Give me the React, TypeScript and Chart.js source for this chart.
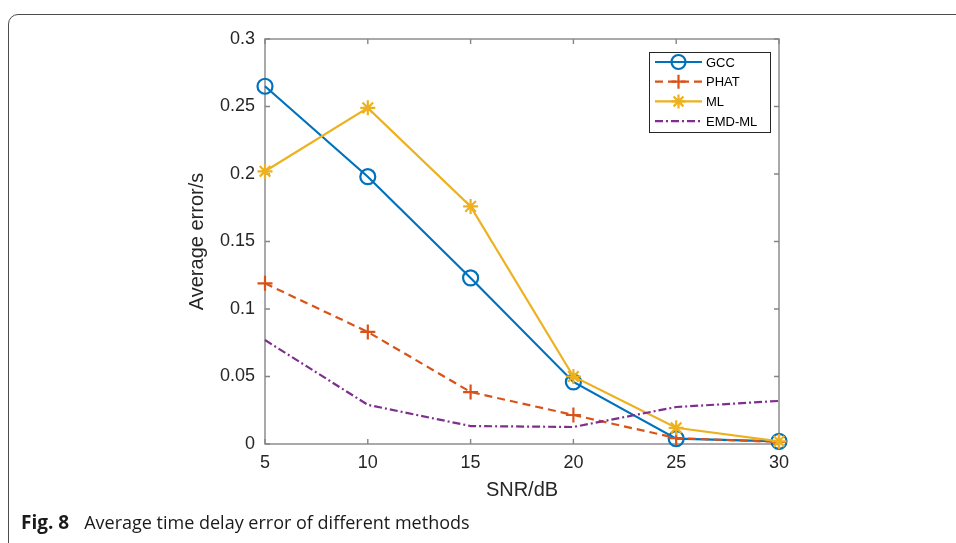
import React, { useEffect, useRef } from "react";
import { Chart, registerables } from "chart.js";

Chart.register(...registerables);

// ---- data ----
const snrDb = [5, 10, 15, 20, 25, 30];
const gccErr = [0.265, 0.198, 0.123, 0.046, 0.004, 0.002];
const phatErr = [0.119, 0.083, 0.0385, 0.0215, 0.0044, 0.0015];
const mlErr = [0.202, 0.249, 0.176, 0.05, 0.012, 0.002];
const emdMlErr = [0.077, 0.029, 0.0133, 0.0126, 0.0274, 0.0319];
const seriesNames = ["GCC", "PHAT", "ML", "EMD-ML"];
const xTickValues = [5, 10, 15, 20, 25, 30];
const yTickValues = [0, 0.05, 0.1, 0.15, 0.2, 0.25, 0.3];
const xTitle = "SNR/dB";
const yTitle = "Average error/s";
const captionBold = "Fig. 8";
const captionText = "Average time delay error of different methods";

const FONT = "'Liberation Sans', Arial, Helvetica, sans-serif";
const AXIS_COLOR = "#858585";
const TEXT_COLOR = "#262626";
const COLORS = ["#0072BD", "#D95319", "#EDB120", "#7E2F8E"];
const DASHES: number[][] = [[], [8, 5], [], [8, 3, 2, 3]];
const MARKERS = ["circle", "cross", "star", ""];

function drawMarker(ctx: CanvasRenderingContext2D, style: string, x: number, y: number, r: number) {
  ctx.beginPath();
  if (style === "circle") {
    ctx.arc(x, y, r, 0, Math.PI * 2);
  } else if (style === "cross") {
    ctx.moveTo(x - r, y);
    ctx.lineTo(x + r, y);
    ctx.moveTo(x, y - r);
    ctx.lineTo(x, y + r);
  } else if (style === "star") {
    ctx.moveTo(x - r, y);
    ctx.lineTo(x + r, y);
    ctx.moveTo(x, y - r);
    ctx.lineTo(x, y + r);
    const d = r * Math.SQRT1_2;
    ctx.moveTo(x - d, y - d);
    ctx.lineTo(x + d, y + d);
    ctx.moveTo(x - d, y + d);
    ctx.lineTo(x + d, y - d);
  }
  ctx.stroke();
}

const boxPlugin = {
  id: "matlabBox",
  beforeDatasetsDraw(chart: any) {
    const { ctx, chartArea: a, scales } = chart;
    ctx.save();
    ctx.strokeStyle = AXIS_COLOR;
    ctx.lineWidth = 1.4;
    ctx.setLineDash([]);
    ctx.strokeRect(a.left, a.top, a.right - a.left, a.bottom - a.top);
    const tl = 5;
    ctx.beginPath();
    xTickValues.forEach((v) => {
      const px = scales.x.getPixelForValue(v);
      ctx.moveTo(px, a.bottom);
      ctx.lineTo(px, a.bottom - tl);
      ctx.moveTo(px, a.top);
      ctx.lineTo(px, a.top + tl);
    });
    yTickValues.forEach((v) => {
      const py = scales.y.getPixelForValue(v);
      ctx.moveTo(a.left, py);
      ctx.lineTo(a.left + tl, py);
      ctx.moveTo(a.right, py);
      ctx.lineTo(a.right - tl, py);
    });
    ctx.stroke();
    ctx.restore();
  },
};

const legendPlugin = {
  id: "matlabLegend",
  afterDatasetsDraw(chart: any) {
    const { ctx, chartArea: a } = chart;
    const right = a.right - 9;
    const top = a.top + 13;
    const w = 121;
    const h = 80;
    const left = right - w;
    ctx.save();
    ctx.fillStyle = "#ffffff";
    ctx.fillRect(left, top, w, h);
    ctx.strokeStyle = "#262626";
    ctx.lineWidth = 1;
    ctx.strokeRect(left + 0.5, top + 0.5, w, h);
    ctx.font = `13px ${FONT}`;
    ctx.textBaseline = "middle";
    ctx.textAlign = "left";
    seriesNames.forEach((name, i) => {
      const y = top + 10 + i * 19.7;
      const x0 = left + 6;
      const x1 = left + 53;
      ctx.strokeStyle = COLORS[i];
      ctx.lineWidth = 2.2;
      ctx.setLineDash(DASHES[i]);
      ctx.beginPath();
      ctx.moveTo(x0, y);
      ctx.lineTo(x1, y);
      ctx.stroke();
      ctx.setLineDash([]);
      if (MARKERS[i]) drawMarker(ctx, MARKERS[i], (x0 + x1) / 2, y, 7);
      ctx.fillStyle = "#000000";
      ctx.fillText(name, left + 57, y + 1);
    });
    ctx.restore();
  },
};

export default function App() {
  const canvasRef = useRef<HTMLCanvasElement | null>(null);

  useEffect(() => {
    const canvas = canvasRef.current;
    if (!canvas) return;
    const series = [gccErr, phatErr, mlErr, emdMlErr];
    const chart = new Chart(canvas, {
      type: "line",
      data: {
        datasets: series.map((vals, i) => ({
          label: seriesNames[i],
          data: snrDb.map((x, j) => ({ x, y: vals[j] })),
          borderColor: COLORS[i],
          backgroundColor: "transparent",
          borderWidth: 2.2,
          borderDash: DASHES[i],
          pointStyle: (MARKERS[i] || "circle") as any,
          pointRadius: MARKERS[i] ? 7.5 : 0,
          pointHoverRadius: MARKERS[i] ? 7.5 : 0,
          pointBorderWidth: 2.2,
          pointBorderColor: COLORS[i],
          pointBackgroundColor: "transparent",
          tension: 0,
          fill: false,
          clip: false as any,
          order: 4 - i,
        })),
      },
      options: {
        responsive: false,
        animation: false,
        devicePixelRatio: 1,
        layout: { padding: { left: 0, top: 39, right: 177, bottom: 0 } },
        plugins: {
          legend: { display: false },
          tooltip: { enabled: false },
        },
        scales: {
          x: {
            type: "linear",
            min: 5,
            max: 30,
            afterBuildTicks: (s: any) => {
              s.ticks = xTickValues.map((v) => ({ value: v }));
            },
            afterFit: (s: any) => {
              s.height = 99;
            },
            grid: { display: false, drawTicks: false },
            border: { display: false },
            ticks: {
              padding: 8,
              color: TEXT_COLOR,
              font: { family: FONT, size: 18 },
              maxRotation: 0,
              callback: (v: any) => String(v),
            },
            title: {
              display: true,
              text: xTitle,
              color: TEXT_COLOR,
              font: { family: FONT, size: 20 },
              padding: { top: 0, bottom: 41 },
            },
          },
          y: {
            type: "linear",
            min: 0,
            max: 0.3,
            afterBuildTicks: (s: any) => {
              s.ticks = yTickValues.map((v) => ({ value: v }));
            },
            afterFit: (s: any) => {
              s.width = 265;
            },
            grid: { display: false, drawTicks: false },
            border: { display: false },
            ticks: {
              padding: 10,
              color: TEXT_COLOR,
              font: { family: FONT, size: 18 },
              callback: (v: any) => String(parseFloat(Number(v).toFixed(2))),
            },
            title: {
              display: true,
              text: yTitle,
              color: TEXT_COLOR,
              font: { family: FONT, size: 20 },
              padding: { top: 185, bottom: 0 },
            },
          },
        },
      },
      plugins: [boxPlugin, legendPlugin],
    });
    return () => chart.destroy();
  }, []);

  return (
    <div style={{ position: "fixed", left: 0, top: 0, width: 956, height: 543, background: "#ffffff", overflow: "hidden" }}>
      <div
        style={{
          position: "absolute",
          left: 8,
          top: 14,
          width: 1000,
          height: 600,
          border: "1.3px solid #4d4d4d",
          borderRadius: 10,
          boxSizing: "border-box",
        }}
      />
      <canvas ref={canvasRef} width={956} height={543} style={{ position: "absolute", left: 0, top: 0 }} />
      <div
        style={{
          position: "absolute",
          left: 21,
          top: 509,
          fontFamily: "'Open Sans', 'Noto Sans', sans-serif",
          fontSize: 18,
          lineHeight: "26px",
          color: "#1a1a1a",
          whiteSpace: "nowrap",
        }}
      >
        <span style={{ fontWeight: 700, fontSize: 19 }}>{captionBold}</span>
        <span style={{ marginLeft: 15 }}>{captionText}</span>
      </div>
    </div>
  );
}
